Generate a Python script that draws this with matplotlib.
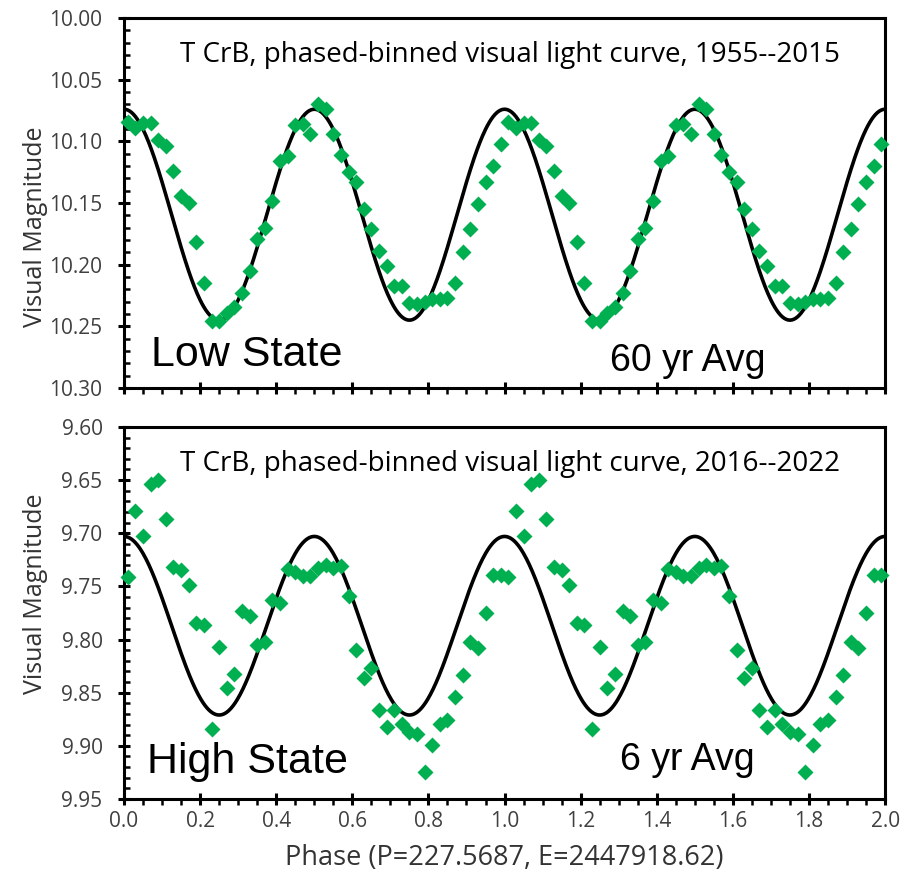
import numpy as np
import matplotlib.pyplot as plt
from matplotlib.ticker import MultipleLocator, FormatStrFormatter

# phase bins (centres), one cycle
phase = [0.01, 0.03, 0.05, 0.07, 0.09, 0.11, 0.13, 0.15, 0.17, 0.19,
         0.21, 0.23, 0.25, 0.27, 0.29, 0.31, 0.33, 0.35, 0.37, 0.39,
         0.41, 0.43, 0.45, 0.47, 0.49, 0.51, 0.53, 0.55, 0.57, 0.59,
         0.61, 0.63, 0.65, 0.67, 0.69, 0.71, 0.73, 0.75, 0.77, 0.79,
         0.81, 0.83, 0.85, 0.87, 0.89, 0.91, 0.93, 0.95, 0.97, 0.99]

# low state 1955--2015
mag_low = [10.084, 10.089, 10.085, 10.085, 10.099, 10.104, 10.124, 10.144, 10.150, 10.182,
           10.215, 10.246, 10.246, 10.239, 10.234, 10.223, 10.205, 10.179, 10.170, 10.148,
           10.116, 10.112, 10.087, 10.086, 10.094, 10.070, 10.074, 10.094, 10.111, 10.125,
           10.133, 10.155, 10.171, 10.189, 10.201, 10.217, 10.217, 10.231, 10.232, 10.230,
           10.228, 10.228, 10.227, 10.215, 10.190, 10.171, 10.151, 10.133, 10.120, 10.102]

# high state 2016--2022
mag_high = [9.741, 9.679, 9.703, 9.654, 9.650, 9.687, 9.732, 9.735, 9.749, 9.784,
            9.786, 9.884, 9.807, 9.846, 9.832, 9.773, 9.778, 9.805, 9.802, 9.763,
            9.766, 9.734, 9.736, 9.740, 9.740, 9.733, 9.730, 9.733, 9.731, 9.759,
            9.810, 9.836, 9.827, 9.866, 9.882, 9.866, 9.879, 9.887, 9.889, 9.925,
            9.899, 9.879, 9.876, 9.854, 9.833, 9.802, 9.808, 9.775, 9.739, 9.739]

# ellipsoidal model curve: brightest / faintest magnitude
low_bright, low_faint = 10.074, 10.245
high_bright, high_faint = 9.703, 9.871

green = '#00B050'
font = 'Open Sans'
grey = '#404040'

fig = plt.figure(figsize=(9.06, 8.76), dpi=100)
ax1 = fig.add_axes([0.1369, 0.5571, 0.840, 0.4224])
ax2 = fig.add_axes([0.1369, 0.0879, 0.840, 0.4247])

ph = np.array(phase)
xx = np.concatenate([ph, ph + 1])
tt = np.linspace(0, 2, 801)

def panel(ax, mags, bright, faint, ylo, yhi, title, state, avg, sx, sy, ax_, ay_, ly):
    mean = (bright + faint) / 2
    amp = (faint - bright) / 2
    ax.plot(tt, mean - amp * np.cos(4 * np.pi * tt), color='black', lw=2.6, zorder=2)
    m = np.array(mags)
    ax.plot(xx, np.concatenate([m, m]), 'D', color=green, ms=8.3, mec='none', zorder=3, clip_on=False)
    ax.set_xlim(0, 2)
    ax.set_ylim(yhi, ylo)
    ax.yaxis.set_major_locator(MultipleLocator(0.05))
    ax.yaxis.set_minor_locator(MultipleLocator(0.01))
    ax.yaxis.set_major_formatter(FormatStrFormatter('%.2f'))
    ax.xaxis.set_major_locator(MultipleLocator(0.2))
    ax.xaxis.set_minor_locator(MultipleLocator(0.05))
    ax.xaxis.set_major_formatter(FormatStrFormatter('%.1f'))
    for s in ax.spines.values():
        s.set_linewidth(2.2)
    ax.tick_params(which='major', direction='inout', length=9, width=2.2,
                   labelsize=15, pad=4)
    ax.tick_params(axis='y', which='major', pad=11)
    ax.tick_params(axis='y', which='minor', direction='in', length=4, width=1.8)
    ax.tick_params(axis='x', which='minor', direction='out', length=4, width=1.8)
    for lab in ax.get_xticklabels() + ax.get_yticklabels():
        lab.set_family(font)
        lab.set_color(grey)
    ax.set_ylabel('Visual Magnitude', fontsize=18, family=font, color='#333333')
    ax.yaxis.set_label_coords(-0.1, ly)
    ax.text(0.507, 0.9, title, transform=ax.transAxes, ha='center', va='center',
            fontsize=20, family=font)
    ax.text(sx, sy, state, transform=ax.transAxes, ha='left', va='center',
            fontsize=31, family='Liberation Sans')
    ax.text(ax_, ay_, avg, transform=ax.transAxes, ha='left', va='center',
            fontsize=27, family='Liberation Sans')

panel(ax1, mag_low, low_bright, low_faint, 10.00, 10.30,
      'T CrB, phased-binned visual light curve, 1955--2015',
      'Low State', '60 yr Avg', 0.036, 0.089, 0.638, 0.072, 0.435)
panel(ax2, mag_high, high_bright, high_faint, 9.60, 9.95,
      'T CrB, phased-binned visual light curve, 2016--2022',
      'High State', '6 yr Avg', 0.030, 0.099, 0.652, 0.104, 0.551)

ax1.tick_params(axis='x', labelbottom=False)
ax2.set_xlabel('Phase (P=227.5687, E=2447918.62)', fontsize=19.5, family=font,
               color='#333333', labelpad=9)

fig.savefig('out.png', dpi=100)
